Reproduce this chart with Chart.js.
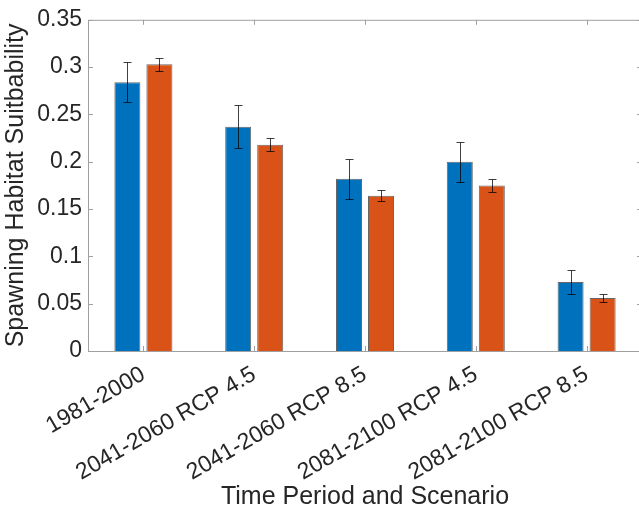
<!DOCTYPE html>
<html>
<head>
<meta charset="utf-8">
<script src="https://cdn.jsdelivr.net/npm/chart.js@4"></script>
<style>
  html, body { margin: 0; padding: 0; background: #fff; overflow: hidden; }
  canvas { display: block; }
</style>
</head>
<body>
<canvas id="chart" width="644" height="514"></canvas>
<script>
const categories = ['1981-2000', '2041-2060 RCP 4.5', '2041-2060 RCP 8.5', '2081-2100 RCP 4.5', '2081-2100 RCP 8.5'];
const blueValues = [0.284, 0.237, 0.182, 0.200, 0.073];
const blueErrors = [0.021, 0.023, 0.021, 0.021, 0.013];
const orangeValues = [0.303, 0.218, 0.164, 0.175, 0.056];
const orangeErrors = [0.007, 0.007, 0.006, 0.0066, 0.0042];
const yTickLabels = ['0', '0.05', '0.1', '0.15', '0.2', '0.25', '0.3', '0.35'];

const textColor = '#262626';
const axisColor = '#a0a0a0';
const fontFamily = '"Liberation Sans", Arial, sans-serif';

// error bars drawn on top of the bars, using the y scale
const errorBars = {
    id: 'errorBars',
    afterDatasetsDraw(chart) {
        const ctx = chart.ctx;
        const y = chart.scales.y;
        ctx.save();
        ctx.strokeStyle = 'rgba(0,0,0,0.75)';
        ctx.lineWidth = 1;
        chart.data.datasets.forEach((ds, i) => {
            const meta = chart.getDatasetMeta(i);
            meta.data.forEach((bar, j) => {
                const v = ds.data[j];
                const e = ds.errors[j];
                const x = Math.round(bar.x) + 0.5;
                const top = Math.round(y.getPixelForValue(v + e)) + 0.5;
                const bottom = Math.round(y.getPixelForValue(v - e)) + 0.5;
                ctx.beginPath();
                ctx.moveTo(x, top);
                ctx.lineTo(x, bottom);
                ctx.moveTo(x - 4, top);
                ctx.lineTo(x + 4, top);
                ctx.moveTo(x - 4, bottom);
                ctx.lineTo(x + 4, bottom);
                ctx.stroke();
            });
        });
        ctx.restore();
    }
};

// matlab style box with inward ticks
const axesBox = {
    id: 'axesBox',
    afterDraw(chart) {
        const { ctx, chartArea: a, scales: { x, y } } = chart;
        const len = 5;
        ctx.save();
        ctx.strokeStyle = axisColor;
        ctx.lineWidth = 1;
        ctx.strokeRect(a.left + 0.5, a.top + 0.5, a.right - a.left, a.bottom - a.top);
        ctx.beginPath();
        x.ticks.forEach((t, i) => {
            const px = Math.round(x.getPixelForTick(i)) + 0.5;
            ctx.moveTo(px, a.bottom);
            ctx.lineTo(px, a.bottom - len);
            ctx.moveTo(px, a.top);
            ctx.lineTo(px, a.top + len);
        });
        y.ticks.forEach((t, i) => {
            const py = Math.round(y.getPixelForTick(i)) + 0.5;
            ctx.moveTo(a.left, py);
            ctx.lineTo(a.left + len, py);
            ctx.moveTo(a.right, py);
            ctx.lineTo(a.right - len, py);
        });
        ctx.stroke();
        ctx.restore();
    }
};

const ctx = document.getElementById('chart').getContext('2d');
new Chart(ctx, {
    type: 'bar',
    data: {
        labels: categories,
        datasets: [{
            data: blueValues,
            errors: blueErrors,
            backgroundColor: '#0072BD',
            borderColor: 'rgba(0,0,0,0.6)',
            borderWidth: 1,
            barPercentage: 0.8125,
            categoryPercentage: 0.578
        }, {
            data: orangeValues,
            errors: orangeErrors,
            backgroundColor: '#D95319',
            borderColor: 'rgba(0,0,0,0.6)',
            borderWidth: 1,
            barPercentage: 0.8125,
            categoryPercentage: 0.578
        }]
    },
    options: {
        responsive: false,
        animation: false,
        layout: { padding: { top: 16, right: 2, bottom: 0, left: 0 } },
        plugins: {
            legend: { display: false },
            tooltip: { enabled: false }
        },
        scales: {
            x: {
                offset: true,
                grid: { display: false, drawTicks: false },
                border: { display: false },
                ticks: {
                    color: textColor,
                    font: { family: fontFamily, size: 23 },
                    minRotation: 30,
                    maxRotation: 30,
                    autoSkip: false,
                    padding: 10
                },
                title: {
                    display: true,
                    text: 'Time Period and Scenario',
                    color: textColor,
                    font: { family: fontFamily, size: 25 },
                    padding: { top: 0, bottom: 2 }
                },
                afterFit(scale) { scale.height = 163; }
            },
            y: {
                min: 0,
                max: 0.35,
                grid: { display: false, drawTicks: false },
                border: { display: false },
                ticks: {
                    stepSize: 0.05,
                    color: textColor,
                    font: { family: fontFamily, size: 23 },
                    padding: 6,
                    callback: (value, index) => yTickLabels[index]
                },
                title: {
                    display: true,
                    text: 'Spawning Habitat Suitbability',
                    color: textColor,
                    font: { family: fontFamily, size: 25 },
                    padding: { top: 1, bottom: 0 }
                },
                afterFit(scale) { scale.width = 88; }
            }
        }
    },
    plugins: [errorBars, axesBox]
});
</script>
</body>
</html>
